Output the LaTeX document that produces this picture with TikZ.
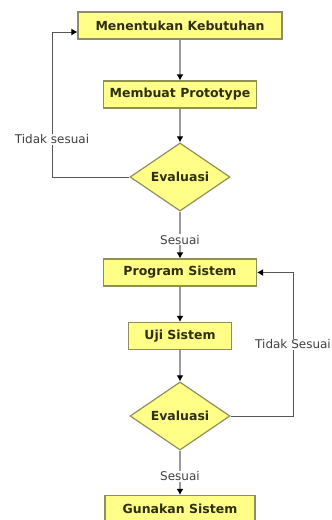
\documentclass[tikz,border=0pt]{standalone}
\usepackage{fontspec}
\setmainfont{DejaVu Sans}
\usetikzlibrary{arrows.meta,shapes.geometric}
\definecolor{boxfill}{HTML}{FFFF88}
\definecolor{boxline}{HTML}{8F8F5C}
\definecolor{boxtext}{HTML}{2E2E10}
\definecolor{flowgray}{HTML}{9A9A9A}
\definecolor{loopgray}{HTML}{555555}
\tikzstyle{process}=[draw=boxline,fill=boxfill,line width=1.2pt,text=boxtext,
  font=\fontsize{12.5}{14}\selectfont\bfseries,minimum height=27pt,inner sep=0pt]
\tikzstyle{decision}=[diamond,draw=boxline,fill=boxfill,line width=1.2pt,text=boxtext,
  font=\fontsize{12.5}{14}\selectfont\bfseries,minimum width=100pt,minimum height=56pt,inner sep=0pt]
\tikzstyle{flow}=[draw=flowgray,line width=2pt,-{Latex[length=6pt,width=7pt,color=black]}]
\tikzstyle{loopline}=[draw=loopgray,line width=1pt,-{Latex[length=6pt,width=7pt,color=black]}]
\tikzstyle{lbl}=[fill=white,inner sep=1pt,text=black!75,font=\fontsize{12}{14}\selectfont]

\begin{document}
\begin{tikzpicture}[x=1pt,y=-1pt]
  \useasboundingbox (0,0) rectangle (332,520);
  \foreach \place/\name/\w/\txt in {{(180,25.5)/box1/204/Menentukan Kebutuhan},
                                    {(180,94.5)/box2/153/Membuat Prototype},
                                    {(180,272.5)/box3/153/Program Sistem},
                                    {(180,336)/box4/103/Uji Sistem},
                                    {(180,509)/box5/150/Gunakan Sistem}}
    \node[process,minimum width=\w pt] (\name) at \place {\txt};
  \node[decision] (eval1) at (180,177) {Evaluasi};
  \node[decision] (eval2) at (180,416) {Evaluasi};
  \coordinate (back1) at (52,32);
  \coordinate (back2) at (293,272.5);
  \foreach \source/\dest in {box1/box2,box2/eval1,box3/box4,box4/eval2}
    \draw[flow] (\source) -- (\dest);
  \draw[flow] (eval1) -- node[lbl,pos=0.6] {Sesuai} (box3);
  \draw[flow] (eval2) -- node[lbl,pos=0.58] {Sesuai} (box5);
  \draw[loopline] (eval1.west) -| node[lbl,pos=0.63] {Tidak sesuai} (back1)
    -- (box1.west |- back1);
  \draw[loopline] (eval2.east) -| node[lbl,pos=0.75] {Tidak Sesuai} (back2)
    -- (box3.east);
\end{tikzpicture}
\end{document}
